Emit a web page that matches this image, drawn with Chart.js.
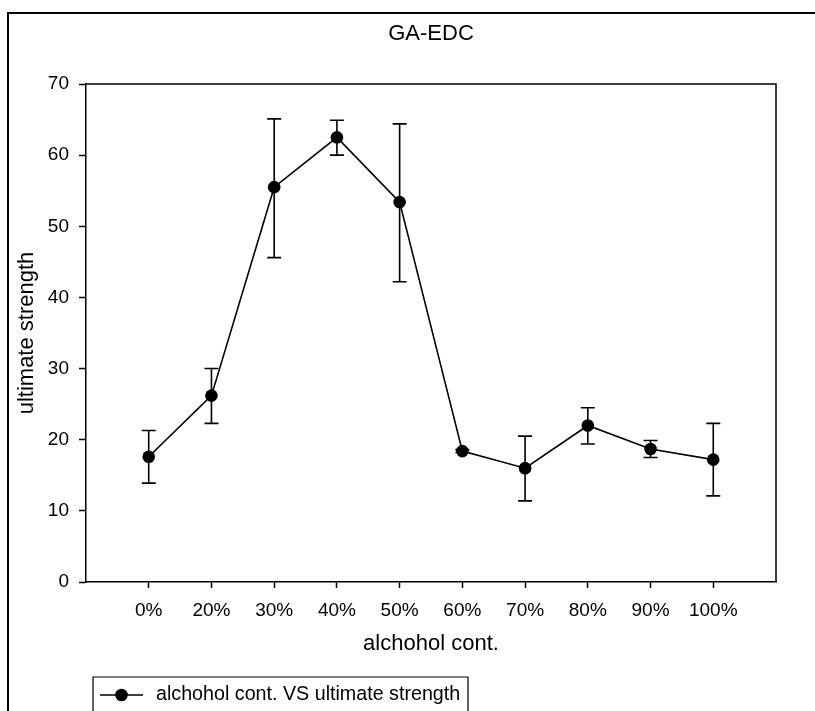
<!DOCTYPE html>
<html>
<head>
<meta charset="utf-8">
<script src="https://cdn.jsdelivr.net/npm/chart.js@4.4.1/dist/chart.umd.min.js"></script>
<style>
  html, body { margin: 0; padding: 0; background: #fff; }
  #wrap { width: 815px; height: 711px; position: relative; }
</style>
</head>
<body>
<div id="wrap"><canvas id="c" width="815" height="711"></canvas></div>
<script>
const categories = ['0%', '20%', '30%', '40%', '50%', '60%', '70%', '80%', '90%', '100%'];
const means      = [17.6, 26.2, 55.5, 62.5, 53.4, 18.4, 16.0, 22.0, 18.7, 17.2];
const errUpper   = [21.3, 30.0, 65.1, 64.9, 64.4, 18.6, 20.5, 24.5, 19.9, 22.3];
const errLower   = [13.9, 22.3, 45.6, 60.0, 42.2, 18.2, 11.4, 19.4, 17.5, 12.1];
const yTicks     = [0, 10, 20, 30, 40, 50, 60, 70];
const seriesName = 'alchohol cont. VS ultimate strength';
const chartTitle = 'GA-EDC';

const FONT = "'Liberation Sans', Arial, sans-serif";

const points = means.map((m, i) => ({ x: i, y: m }));

const errorBars = {
  id: 'errorBars',
  afterDatasetsDraw(chart) {
    const { ctx, scales: { x, y } } = chart;
    ctx.save();
    ctx.strokeStyle = '#000';
    ctx.lineWidth = 1.6;
    means.forEach((m, i) => {
      const px = x.getPixelForValue(i);
      const pt = y.getPixelForValue(errUpper[i]);
      const pb = y.getPixelForValue(errLower[i]);
      ctx.beginPath();
      ctx.moveTo(px, pt); ctx.lineTo(px, pb);
      ctx.moveTo(px - 7, pt); ctx.lineTo(px + 7, pt);
      ctx.moveTo(px - 7, pb); ctx.lineTo(px + 7, pb);
      ctx.stroke();
    });
    ctx.restore();
  }
};

const frame = {
  id: 'frame',
  afterDraw(chart) {
    const { ctx, chartArea: a } = chart;
    ctx.save();
    ctx.strokeStyle = '#000';
    ctx.lineWidth = 1.5;
    ctx.beginPath();
    ctx.moveTo(a.left, a.top); ctx.lineTo(a.right, a.top); ctx.lineTo(a.right, a.bottom);
    ctx.stroke();
    // title centred over the plot area
    ctx.fillStyle = '#000';
    ctx.font = '22px ' + FONT;
    ctx.textAlign = 'center';
    ctx.textBaseline = 'middle';
    ctx.fillText(chartTitle, (a.left + a.right) / 2, 34);
    // outer figure border (left and top only visible)
    ctx.lineWidth = 2;
    ctx.beginPath();
    ctx.moveTo(8, 720); ctx.lineTo(8, 13); ctx.lineTo(830, 13);
    ctx.stroke();
    // legend box
    ctx.lineWidth = 1.2;
    ctx.beginPath();
    ctx.moveTo(93, 720); ctx.lineTo(93, 677); ctx.lineTo(468, 677); ctx.lineTo(468, 720);
    ctx.stroke();
    ctx.lineWidth = 1.6;
    ctx.beginPath();
    ctx.moveTo(100, 695); ctx.lineTo(143, 695);
    ctx.stroke();
    ctx.beginPath();
    ctx.arc(121.5, 695, 6.3, 0, Math.PI * 2);
    ctx.fill();
    ctx.font = '19.7px ' + FONT;
    ctx.textAlign = 'left';
    ctx.fillText(seriesName, 156, 695);
    ctx.restore();
  }
};

new Chart(document.getElementById('c'), {
  type: 'scatter',
  data: {
    datasets: [{
      label: seriesName,
      data: points,
      showLine: true,
      borderColor: '#000',
      borderWidth: 1.6,
      backgroundColor: '#000',
      pointBackgroundColor: '#000',
      pointBorderColor: '#000',
      pointRadius: 6.3,
      pointBorderWidth: 0,
      tension: 0
    }]
  },
  options: {
    responsive: false,
    animation: false,
    devicePixelRatio: 1,
    layout: { padding: { left: 0, right: 39, top: 84, bottom: 0 } },
    plugins: {
      legend: { display: false },
      tooltip: { enabled: false },
      title: { display: false }
    },
    scales: {
      x: {
        type: 'linear',
        min: -1,
        max: 10,
        afterBuildTicks(s) { s.ticks = categories.map((_, i) => ({ value: i })); },
        afterFit(s) { s.height = 129; },
        ticks: {
          autoSkip: false,
          maxRotation: 0,
          color: '#000',
          padding: 11,
          font: { family: FONT, size: 19 },
          callback: (v) => categories[v]
        },
        grid: { drawOnChartArea: false, drawTicks: true, tickLength: 6, color: '#000', tickWidth: 1.5 },
        border: { color: '#000', width: 1.5 },
        title: {
          display: true,
          text: 'alchohol cont.',
          color: '#000',
          font: { family: FONT, size: 22 },
          padding: { top: 0, bottom: 54 }
        }
      },
      y: {
        min: 0,
        max: 70,
        afterBuildTicks(s) { s.ticks = yTicks.map(v => ({ value: v })); },
        afterFit(s) { s.width = 86; },
        ticks: {
          color: '#000',
          padding: 10,
          font: { family: FONT, size: 19 }
        },
        grid: { drawOnChartArea: false, drawTicks: true, tickLength: 7, color: '#000', tickWidth: 1.5 },
        border: { color: '#000', width: 1.5 },
        title: {
          display: true,
          text: 'ultimate strength',
          color: '#000',
          font: { family: FONT, size: 22 },
          padding: { top: 14, bottom: 0 }
        }
      }
    }
  },
  plugins: [errorBars, frame]
});
</script>
</body>
</html>
